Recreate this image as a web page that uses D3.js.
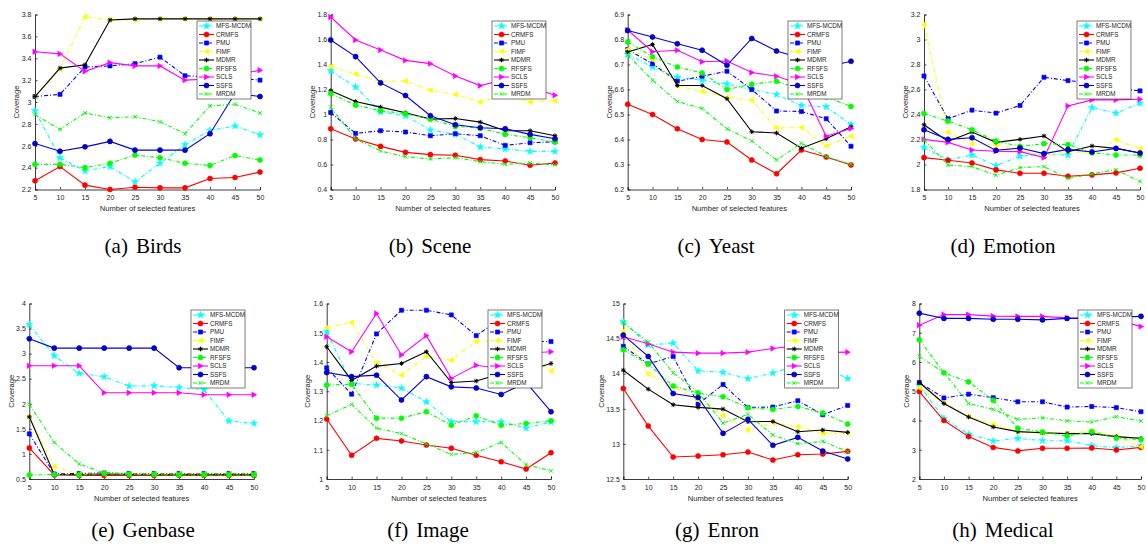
<!DOCTYPE html>
<html><head><meta charset="utf-8">
<script src="https://cdn.jsdelivr.net/npm/d3@7"></script>
<style>body{margin:0;background:#fff} svg{display:block}</style>
</head><body>
<svg id="chart" width="1147" height="552"></svg>
<script>
// ---------- data ----------
const xValues = [5, 10, 15, 20, 25, 30, 35, 40, 45, 50];
const seriesNames = ["MFS-MCDM", "CRMFS", "PMU", "FIMF", "MDMR", "RFSFS", "SCLS", "SSFS", "MRDM"];
const seriesColors = ["#00ffff", "#ff0000", "#0000ff", "#ffff00", "#000000", "#00ff00", "#ff00ff", "#0000e0", "#00ff00"];
const seriesDash = ["dashdot", "solid", "dashdot", "dashdot", "solid", "dashdot", "solid", "solid", "dashdot"];
const seriesMarkers = ["star", "circle", "square", "tleft", "aster", "circle", "tright", "circle", "x"];
const xTickLabels = ["5", "10", "15", "20", "25", "30", "35", "40", "45", "50"];

const birdsValues = [
  [2.92, 2.49, 2.37, 2.41, 2.27, 2.44, 2.61, 2.74, 2.78, 2.70],
  [2.28, 2.41, 2.24, 2.20, 2.22, 2.215, 2.215, 2.30, 2.31, 2.36],
  [3.05, 3.07, 3.32, 3.33, 3.35, 3.41, 3.24, 3.23, 3.22, 3.20],
  [3.05, 3.30, 3.78, 3.75, 3.75, 3.76, 3.76, 3.76, 3.76, 3.76],
  [3.05, 3.31, 3.34, 3.75, 3.76, 3.76, 3.76, 3.76, 3.76, 3.76],
  [2.43, 2.43, 2.40, 2.44, 2.515, 2.49, 2.44, 2.42, 2.51, 2.47],
  [3.46, 3.44, 3.28, 3.36, 3.33, 3.33, 3.20, 3.21, 3.25, 3.29],
  [2.62, 2.55, 2.59, 2.64, 2.56, 2.56, 2.56, 2.71, 3.08, 3.05],
  [2.885, 2.75, 2.90, 2.855, 2.865, 2.82, 2.71, 2.965, 2.98, 2.90]
];
const sceneValues = [
  [1.35, 1.22, 1.02, 0.99, 0.875, 0.843, 0.74, 0.724, 0.705, 0.705],
  [0.886, 0.804, 0.745, 0.697, 0.679, 0.674, 0.639, 0.628, 0.594, 0.612],
  [1.016, 0.849, 0.87, 0.86, 0.83, 0.846, 0.83, 0.753, 0.774, 0.782],
  [1.383, 1.324, 1.263, 1.268, 1.194, 1.16, 1.10, 1.155, 1.10, 1.11],
  [1.19, 1.104, 1.059, 1.014, 0.963, 0.968, 0.939, 0.87, 0.87, 0.83],
  [1.168, 1.075, 1.03, 1.006, 0.963, 0.905, 0.891, 0.841, 0.814, 0.78],
  [1.78, 1.596, 1.516, 1.433, 1.407, 1.308, 1.231, 1.28, 1.22, 1.154],
  [1.596, 1.463, 1.253, 1.152, 0.99, 0.918, 0.894, 0.886, 0.841, 0.806],
  [1.059, 0.804, 0.708, 0.663, 0.644, 0.655, 0.623, 0.602, 0.612, 0.597]
];
const yeastValues = [
  [6.74, 6.69, 6.649, 6.637, 6.622, 6.60, 6.58, 6.536, 6.531, 6.46],
  [6.541, 6.50, 6.443, 6.40, 6.39, 6.318, 6.263, 6.358, 6.33, 6.298],
  [6.76, 6.703, 6.633, 6.653, 6.673, 6.60, 6.514, 6.512, 6.483, 6.373],
  [6.76, 6.72, 6.615, 6.592, 6.569, 6.557, 6.446, 6.448, 6.375, 6.413],
  [6.75, 6.78, 6.616, 6.616, 6.563, 6.431, 6.426, 6.365, 6.403, 6.451],
  [6.79, 6.731, 6.69, 6.666, 6.60, 6.621, 6.633, 6.60, 6.57, 6.532],
  [6.838, 6.751, 6.757, 6.711, 6.714, 6.668, 6.653, 6.62, 6.413, 6.444],
  [6.836, 6.81, 6.783, 6.757, 6.697, 6.804, 6.754, 6.725, 6.69, 6.713],
  [6.738, 6.637, 6.552, 6.524, 6.443, 6.394, 6.318, 6.385, 6.332, 6.301]
];
const emotionValues = [
  [2.137, 2.036, 2.076, 1.991, 2.066, 2.082, 2.076, 2.456, 2.411, 2.49],
  [2.055, 2.034, 2.012, 1.957, 1.93, 1.93, 1.906, 1.917, 1.933, 1.97],
  [2.708, 2.366, 2.435, 2.411, 2.472, 2.698, 2.671, 2.655, 2.61, 2.589],
  [3.12, 2.257, 2.167, 2.156, 2.119, 2.066, 2.106, 2.087, 2.198, 2.124],
  [2.318, 2.185, 2.26, 2.177, 2.201, 2.228, 2.103, 2.148, 2.129, 2.092],
  [2.408, 2.347, 2.278, 2.188, 2.145, 2.167, 2.159, 2.095, 2.076, 2.076],
  [2.201, 2.177, 2.116, 2.106, 2.103, 2.055, 2.469, 2.517, 2.517, 2.522],
  [2.278, 2.201, 2.214, 2.113, 2.132, 2.087, 2.121, 2.10, 2.129, 2.092],
  [2.198, 1.996, 1.983, 1.914, 1.975, 1.983, 1.888, 1.925, 1.959, 1.864]
];
const genbaseValues = [
  [3.58, 2.957, 2.606, 2.54, 2.353, 2.36, 2.327, 2.28, 1.656, 1.61],
  [1.12, 0.58, 0.57, 0.57, 0.57, 0.57, 0.57, 0.57, 0.57, 0.57],
  [1.40, 0.60, 0.61, 0.62, 0.61, 0.61, 0.61, 0.61, 0.61, 0.61],
  [1.73, 0.74, 0.60, 0.60, 0.60, 0.60, 0.60, 0.60, 0.60, 0.60],
  [1.74, 0.59, 0.59, 0.60, 0.59, 0.59, 0.59, 0.59, 0.59, 0.59],
  [0.58, 0.59, 0.58, 0.61, 0.59, 0.59, 0.58, 0.58, 0.58, 0.58],
  [2.758, 2.758, 2.758, 2.22, 2.22, 2.22, 2.22, 2.18, 2.18, 2.18],
  [3.296, 3.11, 3.11, 3.11, 3.11, 3.11, 2.72, 2.72, 2.72, 2.72],
  [1.988, 1.231, 0.80, 0.62, 0.60, 0.60, 0.60, 0.60, 0.60, 0.60]
];
const imageValues = [
  [1.503, 1.327, 1.321, 1.311, 1.264, 1.196, 1.196, 1.196, 1.174, 1.195],
  [1.205, 1.081, 1.139, 1.13, 1.116, 1.105, 1.081, 1.059, 1.034, 1.09],
  [1.38, 1.29, 1.496, 1.577, 1.577, 1.561, 1.49, 1.55, 1.47, 1.47],
  [1.517, 1.535, 1.398, 1.355, 1.42, 1.406, 1.471, 1.47, 1.43, 1.369],
  [1.452, 1.337, 1.386, 1.395, 1.435, 1.33, 1.335, 1.36, 1.37, 1.395],
  [1.321, 1.324, 1.208, 1.208, 1.23, 1.184, 1.216, 1.184, 1.19, 1.199],
  [1.486, 1.435, 1.566, 1.424, 1.49, 1.344, 1.389, 1.378, 1.43, 1.435],
  [1.364, 1.35, 1.355, 1.27, 1.35, 1.315, 1.311, 1.289, 1.33, 1.23],
  [1.216, 1.255, 1.174, 1.155, 1.12, 1.084, 1.091, 1.125, 1.049, 1.028]
];
const enronValues = [
  [14.74, 14.41, 14.435, 14.04, 14.02, 13.93, 14.01, 14.12, 14.1, 13.93],
  [13.79, 13.254, 12.813, 12.827, 12.846, 12.884, 12.77, 12.846, 12.856, 12.894],
  [14.39, 14.14, 14.246, 13.567, 13.847, 13.52, 13.525, 13.615, 13.416, 13.548],
  [14.606, 13.994, 13.82, 13.624, 13.406, 13.197, 13.30, 13.245, 13.15, 13.15],
  [14.05, 13.78, 13.558, 13.52, 13.496, 13.316, 13.32, 13.174, 13.197, 13.164],
  [14.34, 14.137, 13.824, 13.724, 13.672, 13.515, 13.491, 13.534, 13.44, 13.283],
  [14.526, 14.426, 14.307, 14.293, 14.293, 14.307, 14.36, 14.4, 14.3, 14.307],
  [14.55, 14.246, 13.719, 13.662, 13.15, 13.35, 12.98, 13.093, 12.898, 12.785],
  [14.725, 14.45, 14.013, 13.738, 13.297, 13.42, 13.126, 13.003, 13.036, 12.889]
];
const medicalValues = [
  [5.21, 4.07, 3.53, 3.30, 3.39, 3.31, 3.31, 3.14, 3.07, 3.14],
  [4.99, 4.0, 3.45, 3.08, 2.96, 3.05, 3.05, 3.06, 2.99, 3.08],
  [5.30, 4.77, 4.90, 4.78, 4.64, 4.64, 4.46, 4.48, 4.44, 4.30],
  [5.12, 4.60, 4.14, 3.87, 3.61, 3.56, 3.56, 3.65, 3.47, 3.10],
  [5.30, 4.58, 4.12, 3.78, 3.62, 3.58, 3.55, 3.55, 3.45, 3.39],
  [6.76, 5.63, 5.32, 4.69, 3.73, 3.61, 3.47, 3.62, 3.39, 3.35],
  [7.26, 7.62, 7.62, 7.57, 7.56, 7.56, 7.51, 7.50, 7.45, 7.21],
  [7.67, 7.49, 7.49, 7.46, 7.46, 7.44, 7.49, 7.50, 7.53, 7.56],
  [6.19, 5.64, 4.58, 4.38, 4.04, 4.09, 3.99, 3.95, 4.13, 3.98]
];

const birdsTicks = [2.2, 2.4, 2.6, 2.8, 3, 3.2, 3.4, 3.6, 3.8];
const sceneTicks = [0.4, 0.6, 0.8, 1, 1.2, 1.4, 1.6, 1.8];
const yeastTicks = [6.2, 6.3, 6.4, 6.5, 6.6, 6.7, 6.8, 6.9];
const emotionTicks = [1.8, 2, 2.2, 2.4, 2.6, 2.8, 3, 3.2];
const genbaseTicks = [0.5, 1, 1.5, 2, 2.5, 3, 3.5, 4];
const imageTicks = [1, 1.1, 1.2, 1.3, 1.4, 1.5, 1.6];
const enronTicks = [12.5, 13, 13.5, 14, 14.5, 15];
const medicalTicks = [2, 3, 4, 5, 6, 7, 8];

const captions = ["(a)", "(b)", "(c)", "(d)", "(e)", "(f)", "(g)", "(h)"];
const datasetNames = ["Birds", "Scene", "Yeast", "Emotion", "Genbase", "Image", "Enron", "Medical"];
const xTitle = "Number of selected features";
const yTitle = "Coverage";

// ---------- layout ----------
const panels = [
  {values: birdsValues,   ticks: birdsTicks,   l: 35,    r: 260,    t: 14.5,  b: 189.5, yo: 19,  cx: 143,  cy: 253},
  {values: sceneValues,   ticks: sceneTicks,   l: 330.7, r: 555,    t: 14.5,  b: 189.5, yo: 18.7, cx: 430, cy: 253},
  {values: yeastValues,   ticks: yeastTicks,   l: 627.7, r: 851,    t: 14.5,  b: 189.5, yo: 18.7, cx: 716, cy: 253},
  {values: emotionValues, ticks: emotionTicks, l: 924,   r: 1140,   t: 14.5,  b: 189.5, yo: 19,  cx: 1003, cy: 253},
  {values: genbaseValues, ticks: genbaseTicks, l: 29.3,  r: 254,    t: 303.5, b: 479,   yo: 17.6, cx: 143, cy: 537},
  {values: imageValues,   ticks: imageTicks,   l: 326.7, r: 551,    t: 303.5, b: 479,   yo: 19,  cx: 428,  cy: 537},
  {values: enronValues,   ticks: enronTicks,   l: 623.3, r: 847.7,  t: 303.5, b: 479,   yo: 22,  cx: 717,  cy: 537},
  {values: medicalValues, ticks: medicalTicks, l: 919.3, r: 1141,   t: 303.5, b: 479,   yo: 13,  cx: 1003, cy: 537}
];

const svg = d3.select("#chart");
const axisColor = "#262626";
const sans = "'Liberation Sans', Arial, Helvetica, sans-serif";

function markerPath(type) {
  switch (type) {
    case "star": return d3.symbol(d3.symbolStar, 15)();
    case "circle": return d3.symbol(d3.symbolCircle, 20)();
    case "square": return d3.symbol(d3.symbolSquare, 17)();
    case "tleft": return "M-2.7,0L2.1,-2.7L2.1,2.7Z";
    case "tright": return "M2.7,0L-2.1,-2.7L-2.1,2.7Z";
    case "aster": return "M-2.3,0H2.3M0,-2.3V2.3M-1.6,-1.6L1.6,1.6M-1.6,1.6L1.6,-1.6";
    case "x": return "M-1.8,-1.8L1.8,1.8M-1.8,1.8L1.8,-1.8";
  }
}
const strokeOnly = t => t === "aster" || t === "x";

function drawMarker(g, type, color, x, y, idx) {
  const p = g.append("path").attr("d", markerPath(type)).attr("transform", `translate(${x},${y})`);
  if (strokeOnly(type)) {
    p.attr("fill", "none").attr("stroke", color).attr("stroke-width", 1);
  } else {
    p.attr("fill", color).attr("stroke", idx === 7 ? "#000080" : color).attr("stroke-width", 0.6);
  }
}

panels.forEach((P, pi) => {
  const g = svg.append("g");
  const x = d3.scaleLinear().domain([xValues[0], xValues[xValues.length - 1]]).range([P.l, P.r]);
  const y = d3.scaleLinear().domain([P.ticks[0], P.ticks[P.ticks.length - 1]]).range([P.b, P.t]);

  // axes (MATLAB style: inward ticks, box off)
  const yAxis = d3.axisLeft(y).tickValues(P.ticks).tickSize(-2.5).tickPadding(5).tickFormat(d => String(d));
  const xAxis = d3.axisBottom(x).tickValues(xValues).tickSize(-2.5).tickPadding(5).tickFormat((d, i) => xTickLabels[i]);
  const ya = g.append("g").attr("transform", `translate(${P.l},0)`).call(yAxis);
  const xa = g.append("g").attr("transform", `translate(0,${P.b})`).call(xAxis);
  [ya, xa].forEach(a => {
    a.select(".domain").attr("stroke", axisColor).attr("stroke-width", 0.9);
    a.selectAll(".tick line").attr("stroke", axisColor).attr("stroke-width", 0.8);
    a.selectAll("text").attr("fill", axisColor).attr("font-family", sans).attr("font-size", 7);
  });
  xa.selectAll(".tick text").attr("dy", null).attr("y", 10.5);
  ya.selectAll(".tick text").attr("x", -3.5);

  // titles
  g.append("text").attr("x", (P.l + P.r) / 2).attr("y", P.b + 21.5)
    .attr("text-anchor", "middle").attr("font-family", sans).attr("font-size", 7.6)
    .attr("fill", axisColor).text(xTitle);
  g.append("text").attr("transform", `translate(${P.l - P.yo},${(P.t + P.b) / 2}) rotate(-90)`)
    .attr("text-anchor", "middle").attr("dy", "0.35em").attr("font-family", sans).attr("font-size", 7.6)
    .attr("fill", axisColor).text(yTitle);

  // series
  const line = d3.line().x((d, i) => x(xValues[i])).y(d => y(d));
  P.values.forEach((vals, si) => {
    const color = seriesColors[si];
    g.append("path").datum(vals).attr("d", line).attr("fill", "none")
      .attr("stroke", color).attr("stroke-width", 1.1)
      .attr("stroke-dasharray", seriesDash[si] === "dashdot" ? "4,2,1,2" : null);
    vals.forEach((v, i) => drawMarker(g, seriesMarkers[si], color, x(xValues[i]), y(v), si));
  });

  // legend
  const lw = 54, lh = 78;
  const lx = P.r - 9 - lw, ly = P.t + 6.5;
  const lg = g.append("g");
  lg.append("rect").attr("x", lx).attr("y", ly).attr("width", lw).attr("height", lh)
    .attr("fill", "#fff").attr("stroke", axisColor).attr("stroke-width", 0.6);
  seriesNames.forEach((name, si) => {
    const ey = ly + 5 + si * 8.5;
    lg.append("line").attr("x1", lx + 2).attr("x2", lx + 17).attr("y1", ey).attr("y2", ey)
      .attr("stroke", seriesColors[si]).attr("stroke-width", 1.1)
      .attr("stroke-dasharray", seriesDash[si] === "dashdot" ? "4,2,1,2" : null);
    drawMarker(lg, seriesMarkers[si], seriesColors[si], lx + 9.5, ey, si);
    lg.append("text").attr("x", lx + 19).attr("y", ey).attr("dy", "0.35em")
      .attr("font-family", sans).attr("font-size", 6.3).attr("fill", axisColor).text(name);
  });

  // caption
  const cap = svg.append("text").attr("x", P.cx).attr("y", P.cy).attr("text-anchor", "middle")
    .attr("font-family", "'Liberation Serif', 'Times New Roman', serif").attr("font-size", 21)
    .attr("fill", "#000");
  cap.append("tspan").text(captions[pi]);
  cap.append("tspan").attr("dx", 8).text(datasetNames[pi]);
});
</script>
</body></html>
